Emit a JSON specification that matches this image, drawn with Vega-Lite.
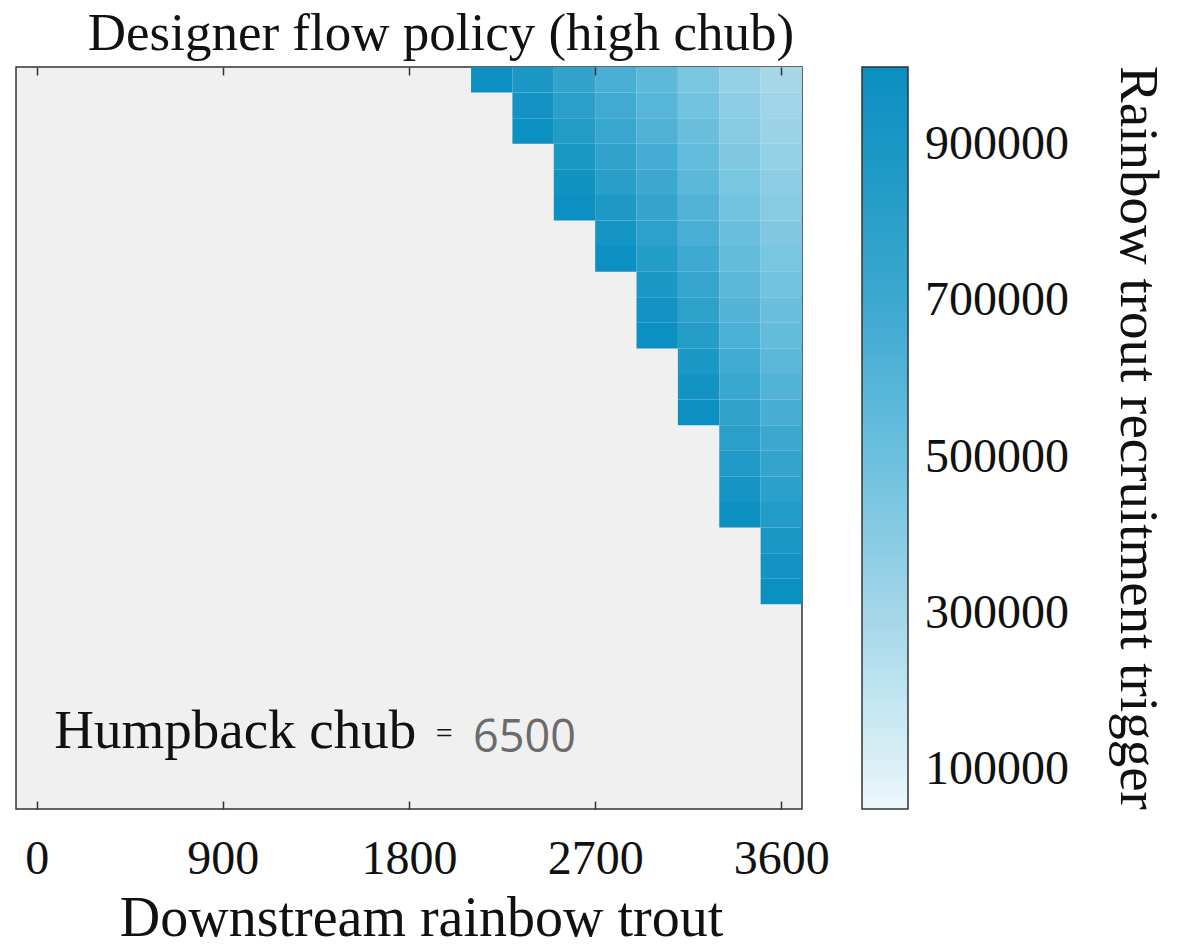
{
  "$schema": "https://vega.github.io/schema/vega-lite/v6.json",
  "width": 786,
  "height": 742,
  "autosize": "none",
  "padding": {"left": 16, "top": 67, "right": 377, "bottom": 143},
  "background": "white",
  "title": {"text": "Designer flow policy (high chub)", "font": "Liberation Serif", "fontSize": 53, "fontWeight": "normal", "color": "#111111", "anchor": "middle", "frame": "group", "baseline": "alphabetic", "offset": 0, "dx": 32, "dy": 37},
  "config": {"view": {"fill": "#f0f0f0", "stroke": "#333333", "strokeWidth": 1.5}},
  "resolve": {"axis": {"x": "independent"}},
  "layer": [
    {
      "data": {"values": [
        {"trout_from": 2100, "trout_to": 2300, "row": 0, "trigger": 990000},
        {"trout_from": 2300, "trout_to": 2500, "row": 0, "trigger": 890000},
        {"trout_from": 2300, "trout_to": 2500, "row": 1, "trigger": 945000},
        {"trout_from": 2300, "trout_to": 2500, "row": 2, "trigger": 990000},
        {"trout_from": 2500, "trout_to": 2700, "row": 0, "trigger": 760000},
        {"trout_from": 2500, "trout_to": 2700, "row": 1, "trigger": 805000},
        {"trout_from": 2500, "trout_to": 2700, "row": 2, "trigger": 855000},
        {"trout_from": 2500, "trout_to": 2700, "row": 3, "trigger": 905000},
        {"trout_from": 2500, "trout_to": 2700, "row": 4, "trigger": 955000},
        {"trout_from": 2500, "trout_to": 2700, "row": 5, "trigger": 990000},
        {"trout_from": 2700, "trout_to": 2900, "row": 0, "trigger": 640000},
        {"trout_from": 2700, "trout_to": 2900, "row": 1, "trigger": 680000},
        {"trout_from": 2700, "trout_to": 2900, "row": 2, "trigger": 725000},
        {"trout_from": 2700, "trout_to": 2900, "row": 3, "trigger": 770000},
        {"trout_from": 2700, "trout_to": 2900, "row": 4, "trigger": 820000},
        {"trout_from": 2700, "trout_to": 2900, "row": 5, "trigger": 875000},
        {"trout_from": 2700, "trout_to": 2900, "row": 6, "trigger": 935000},
        {"trout_from": 2700, "trout_to": 2900, "row": 7, "trigger": 990000},
        {"trout_from": 2900, "trout_to": 3100, "row": 0, "trigger": 560000},
        {"trout_from": 2900, "trout_to": 3100, "row": 1, "trigger": 590000},
        {"trout_from": 2900, "trout_to": 3100, "row": 2, "trigger": 625000},
        {"trout_from": 2900, "trout_to": 3100, "row": 3, "trigger": 660000},
        {"trout_from": 2900, "trout_to": 3100, "row": 4, "trigger": 700000},
        {"trout_from": 2900, "trout_to": 3100, "row": 5, "trigger": 745000},
        {"trout_from": 2900, "trout_to": 3100, "row": 6, "trigger": 790000},
        {"trout_from": 2900, "trout_to": 3100, "row": 7, "trigger": 840000},
        {"trout_from": 2900, "trout_to": 3100, "row": 8, "trigger": 890000},
        {"trout_from": 2900, "trout_to": 3100, "row": 9, "trigger": 945000},
        {"trout_from": 2900, "trout_to": 3100, "row": 10, "trigger": 990000},
        {"trout_from": 3100, "trout_to": 3300, "row": 0, "trigger": 450000},
        {"trout_from": 3100, "trout_to": 3300, "row": 1, "trigger": 475000},
        {"trout_from": 3100, "trout_to": 3300, "row": 2, "trigger": 505000},
        {"trout_from": 3100, "trout_to": 3300, "row": 3, "trigger": 535000},
        {"trout_from": 3100, "trout_to": 3300, "row": 4, "trigger": 570000},
        {"trout_from": 3100, "trout_to": 3300, "row": 5, "trigger": 605000},
        {"trout_from": 3100, "trout_to": 3300, "row": 6, "trigger": 645000},
        {"trout_from": 3100, "trout_to": 3300, "row": 7, "trigger": 690000},
        {"trout_from": 3100, "trout_to": 3300, "row": 8, "trigger": 735000},
        {"trout_from": 3100, "trout_to": 3300, "row": 9, "trigger": 785000},
        {"trout_from": 3100, "trout_to": 3300, "row": 10, "trigger": 835000},
        {"trout_from": 3100, "trout_to": 3300, "row": 11, "trigger": 890000},
        {"trout_from": 3100, "trout_to": 3300, "row": 12, "trigger": 945000},
        {"trout_from": 3100, "trout_to": 3300, "row": 13, "trigger": 990000},
        {"trout_from": 3300, "trout_to": 3500, "row": 0, "trigger": 350000},
        {"trout_from": 3300, "trout_to": 3500, "row": 1, "trigger": 375000},
        {"trout_from": 3300, "trout_to": 3500, "row": 2, "trigger": 400000},
        {"trout_from": 3300, "trout_to": 3500, "row": 3, "trigger": 425000},
        {"trout_from": 3300, "trout_to": 3500, "row": 4, "trigger": 450000},
        {"trout_from": 3300, "trout_to": 3500, "row": 5, "trigger": 475000},
        {"trout_from": 3300, "trout_to": 3500, "row": 6, "trigger": 505000},
        {"trout_from": 3300, "trout_to": 3500, "row": 7, "trigger": 535000},
        {"trout_from": 3300, "trout_to": 3500, "row": 8, "trigger": 565000},
        {"trout_from": 3300, "trout_to": 3500, "row": 9, "trigger": 600000},
        {"trout_from": 3300, "trout_to": 3500, "row": 10, "trigger": 635000},
        {"trout_from": 3300, "trout_to": 3500, "row": 11, "trigger": 675000},
        {"trout_from": 3300, "trout_to": 3500, "row": 12, "trigger": 715000},
        {"trout_from": 3300, "trout_to": 3500, "row": 13, "trigger": 760000},
        {"trout_from": 3300, "trout_to": 3500, "row": 14, "trigger": 810000},
        {"trout_from": 3300, "trout_to": 3500, "row": 15, "trigger": 870000},
        {"trout_from": 3300, "trout_to": 3500, "row": 16, "trigger": 930000},
        {"trout_from": 3300, "trout_to": 3500, "row": 17, "trigger": 990000},
        {"trout_from": 3500, "trout_to": 3700, "row": 0, "trigger": 290000},
        {"trout_from": 3500, "trout_to": 3700, "row": 1, "trigger": 310000},
        {"trout_from": 3500, "trout_to": 3700, "row": 2, "trigger": 330000},
        {"trout_from": 3500, "trout_to": 3700, "row": 3, "trigger": 350000},
        {"trout_from": 3500, "trout_to": 3700, "row": 4, "trigger": 375000},
        {"trout_from": 3500, "trout_to": 3700, "row": 5, "trigger": 400000},
        {"trout_from": 3500, "trout_to": 3700, "row": 6, "trigger": 425000},
        {"trout_from": 3500, "trout_to": 3700, "row": 7, "trigger": 450000},
        {"trout_from": 3500, "trout_to": 3700, "row": 8, "trigger": 475000},
        {"trout_from": 3500, "trout_to": 3700, "row": 9, "trigger": 505000},
        {"trout_from": 3500, "trout_to": 3700, "row": 10, "trigger": 535000},
        {"trout_from": 3500, "trout_to": 3700, "row": 11, "trigger": 570000},
        {"trout_from": 3500, "trout_to": 3700, "row": 12, "trigger": 610000},
        {"trout_from": 3500, "trout_to": 3700, "row": 13, "trigger": 650000},
        {"trout_from": 3500, "trout_to": 3700, "row": 14, "trigger": 700000},
        {"trout_from": 3500, "trout_to": 3700, "row": 15, "trigger": 750000},
        {"trout_from": 3500, "trout_to": 3700, "row": 16, "trigger": 800000},
        {"trout_from": 3500, "trout_to": 3700, "row": 17, "trigger": 850000},
        {"trout_from": 3500, "trout_to": 3700, "row": 18, "trigger": 900000},
        {"trout_from": 3500, "trout_to": 3700, "row": 19, "trigger": 950000},
        {"trout_from": 3500, "trout_to": 3700, "row": 20, "trigger": 990000}
      ]},
      "mark": {"type": "rect"},
      "encoding": {
        "x": {
          "field": "trout_from", "type": "quantitative",
          "scale": {"domain": [-100, 3700], "nice": false, "zero": false},
          "axis": {
            "orient": "bottom",
            "values": [0, 900, 1800, 2700, 3600], "format": "d",
            "labelFont": "Liberation Serif", "labelFontSize": 48, "labelColor": "#111111",
            "labelBaseline": "alphabetic", "labelPadding": 72, "labelFlush": false, "labelOverlap": false,
            "tickSize": -8, "tickColor": "#333333", "tickWidth": 1.5,
            "domain": false, "grid": false,
            "title": "Downstream rainbow trout", "titleFont": "Liberation Serif", "titleFontSize": 56,
            "titleFontWeight": "normal", "titleColor": "#111111", "titleBaseline": "alphabetic",
            "titleAlign": "center", "titleX": 405, "titleY": 126
          }
        },
        "x2": {"field": "trout_to"},
        "y": {
          "field": "row", "type": "ordinal",
          "scale": {"domain": [0,1,2,3,4,5,6,7,8,9,10,11,12,13,14,15,16,17,18,19,20,21,22,23,24,25,26,27,28], "paddingInner": 0, "paddingOuter": 0},
          "axis": null
        },
        "color": {
          "field": "trigger", "type": "quantitative",
          "scale": {
            "type": "linear",
            "domain": [50000, 100000, 300000, 500000, 700000, 900000, 1000000],
            "range": ["#eef8fc", "#dcf0f7", "#a3d6e8", "#6bc0de", "#3ca8d0", "#1a97c5", "#0a8fc0"],
            "interpolate": "rgb"
          },
          "legend": {
            "orient": "none", "legendX": 846, "legendY": 0, "direction": "vertical", "padding": 0,
            "gradientLength": 742, "gradientThickness": 46,
            "gradientStrokeColor": "#333333", "gradientStrokeWidth": 1.5,
            "values": [100000, 300000, 500000, 700000, 900000], "format": "d",
            "labelFont": "Liberation Serif", "labelFontSize": 48, "labelColor": "#111111",
            "labelOffset": 17, "labelOverlap": false,
            "title": "Rainbow trout recruitment trigger", "titleOrient": "right", "titleAngle": 270,
            "titleFont": "Liberation Serif", "titleFontSize": 55, "titleFontWeight": "normal",
            "titleColor": "#111111", "titleAnchor": "middle", "titlePadding": 40, "titleLimit": 2000
          }
        }
      }
    },
    {
      "data": {"values": [{"trout": 85, "row": 26, "label": "Humpback chub"}]},
      "mark": {"type": "text", "font": "Liberation Serif", "fontSize": 55, "color": "#111111", "align": "left", "baseline": "alphabetic", "dy": 3},
      "encoding": {
        "x": {"field": "trout", "type": "quantitative",
          "axis": {"orient": "top", "values": [0, 900, 1800, 2700, 3600], "labels": false, "tickSize": -8, "tickColor": "#333333", "tickWidth": 1.5, "domain": false, "grid": false, "title": null, "zindex": 1}},
        "y": {"field": "row", "type": "ordinal"},
        "text": {"field": "label"}
      }
    },
    {
      "data": {"values": [{"trout": 1970, "row": 26, "label": "="}]},
      "mark": {"type": "text", "font": "Liberation Serif", "fontSize": 30, "color": "#111111", "align": "center", "baseline": "alphabetic", "dy": -2},
      "encoding": {
        "x": {"field": "trout", "type": "quantitative", "axis": null},
        "y": {"field": "row", "type": "ordinal"},
        "text": {"field": "label"}
      }
    },
    {
      "data": {"values": [{"trout": 2110, "row": 26, "label": "6500"}]},
      "mark": {"type": "text", "font": "Open Sans", "fontSize": 45, "color": "#6b6b6b", "align": "left", "baseline": "alphabetic", "dy": 7},
      "encoding": {
        "x": {"field": "trout", "type": "quantitative", "axis": null},
        "y": {"field": "row", "type": "ordinal"},
        "text": {"field": "label"}
      }
    }
  ]
}
